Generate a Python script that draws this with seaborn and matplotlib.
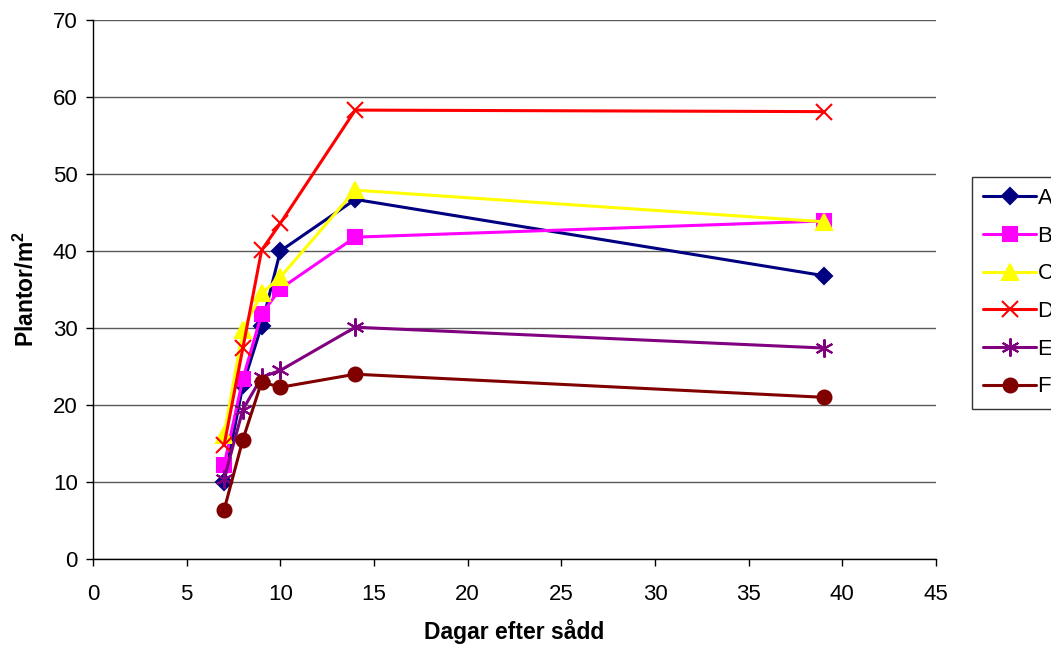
import pandas as pd
import numpy as np
import matplotlib
matplotlib.use("Agg")
import matplotlib.pyplot as plt
import seaborn as sns

days = [7, 8, 9, 10, 14, 39]
series_names = ["A", "B", "C", "D", "E", "F"]
A = [10.0, 22.6, 30.3, 40.0, 46.7, 36.8]
B = [12.2, 23.4, 31.8, 35.1, 41.8, 43.9]
C = [16.1, 29.7, 34.5, 36.6, 47.9, 43.8]
D = [14.8, 27.4, 40.1, 43.6, 58.3, 58.1]
E = [10.4, 19.4, 23.6, 24.5, 30.1, 27.4]
F = [6.4, 15.5, 23.0, 22.3, 24.0, 21.0]

colors = {"A": "#000080", "B": "#FF00FF", "C": "#FFFF00",
          "D": "#FF0000", "E": "#800080", "F": "#800000"}
markers = {"A": "D", "B": "s", "C": "^", "D": "x", "E": (6, 2, 0), "F": "o"}
msize = {"A": 8, "B": 10, "C": 11, "D": 12, "E": 13, "F": 10}

rows = []
for name, vals in zip(series_names, [A, B, C, D, E, F]):
    for d, v in zip(days, vals):
        rows.append({"Dagar": d, "Plantor": v, "Serie": name})
df = pd.DataFrame(rows)

sns.set_style("white")
plt.rcParams["font.family"] = ["Liberation Sans", "DejaVu Sans"]
plt.rcParams["text.color"] = "black"
plt.rcParams["axes.labelcolor"] = "black"
plt.rcParams["xtick.color"] = "black"
plt.rcParams["ytick.color"] = "black"

fig = plt.figure(figsize=(10.51, 6.46), dpi=100)
ax = fig.add_axes([93 / 1051, 1 - 559 / 646, (936 - 93) / 1051, (559 - 20) / 646])

for name in series_names:
    sub = df[df["Serie"] == name]
    sns.lineplot(data=sub, x="Dagar", y="Plantor", ax=ax, color=colors[name],
                 marker=markers[name], markersize=msize[name], linewidth=2.2,
                 markeredgewidth=1.5, markeredgecolor=colors[name],
                 label=name, legend=False)

ax.set_xlim(0, 45)
ax.set_ylim(0, 70)
ax.set_xticks(range(0, 46, 5))
ax.set_yticks(range(0, 71, 10))
ax.yaxis.grid(True, color="#5a5a5a", linewidth=1)
ax.set_axisbelow(True)
for s in ["top", "right"]:
    ax.spines[s].set_visible(False)
for s in ["left", "bottom"]:
    ax.spines[s].set_color("black")
    ax.spines[s].set_linewidth(1)
ax.tick_params(axis="both", direction="out", length=5, width=1, color="black",
               labelcolor="black", labelsize=16, bottom=True, left=True)
ax.tick_params(axis="y", pad=6)
ax.tick_params(axis="x", pad=13)
ax.set_xlabel("Dagar efter sådd", fontsize=16.5, fontweight="bold", labelpad=10)
ax.set_ylabel("Plantor/m$^\\mathregular{2}$", fontsize=16.5, fontweight="bold", labelpad=10)

handles, labels = ax.get_legend_handles_labels()
leg = fig.legend(handles, labels, loc="upper left",
                 bbox_to_anchor=(972 / 1051, 1 - 177 / 646),
                 fontsize=16, frameon=True, fancybox=False, shadow=False,
                 handlelength=2.4, handletextpad=0.05, labelspacing=0.75,
                 borderpad=0.5, borderaxespad=0)
leg.get_frame().set_edgecolor("black")
leg.get_frame().set_linewidth(1)

fig.savefig("out.png", dpi=100)
